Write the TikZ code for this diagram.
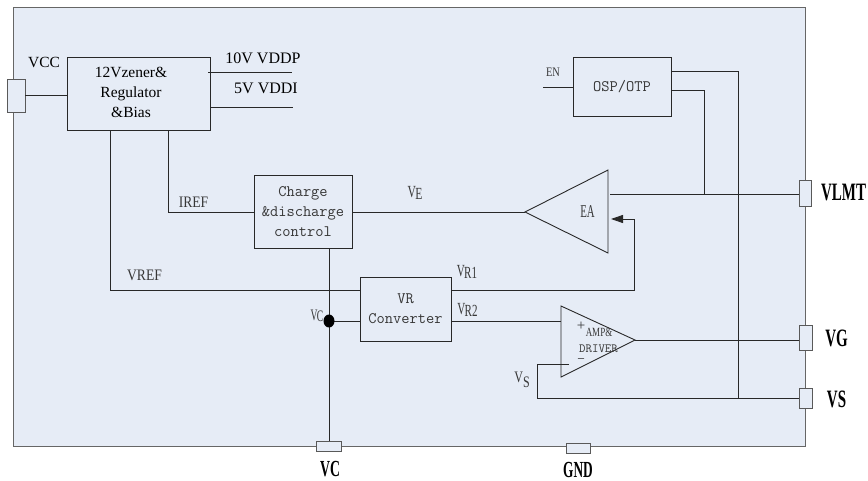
\documentclass[tikz,border=0pt]{standalone}
\usepackage{fontspec}
\usepackage{graphicx}
\setmainfont{Liberation Serif}
\setmonofont{Latin Modern Mono}
\usetikzlibrary{calc,arrows.meta}
\definecolor{bgblue}{RGB}{230,236,246}
\definecolor{ln}{RGB}{40,40,40}
\definecolor{tx}{RGB}{55,55,55}
\newcommand{\cnd}[2][0.7]{\scalebox{#1}[1]{#2}}
\begin{document}
\begin{tikzpicture}[x=1pt,y=-1pt,
  wire/.style={draw=ln,line width=0.9pt},
  blk/.style={draw=ln,line width=0.9pt,fill=bgblue,inner sep=0pt,align=center},
  pinbox/.style={draw=black!65,line width=0.8pt,fill=bgblue,inner sep=0pt},
  pinlab/.style={font=\fontsize{25}{25}\selectfont\bfseries,inner sep=0pt},
  serlab/.style={font=\fontsize{15.5}{20}\selectfont,inner sep=0pt,align=center},
  sl/.style={font=\fontsize{15}{15}\selectfont,text=tx,inner sep=0pt},
  mono/.style={font=\fontsize{16}{20}\selectfont\ttfamily,text=tx},
]
\useasboundingbox (0,0) rectangle (868,481);
\fill[white] (0,0) rectangle (868,481);
% chip frame
\draw[draw=black!60,line width=1pt,fill=bgblue] (13,8) rectangle (805,446);

% blocks
\node[blk,minimum width=143pt,minimum height=73pt] (reg) at (138.5,93.5) {};
\node[serlab] (regtxt) at (131,92) {12Vzener\&\\Regulator\\\&Bias};
\node[blk,minimum width=98pt,minimum height=73pt,mono] (chg) at (303,212) {Charge\\\&discharge\\control};
\node[blk,minimum width=91pt,minimum height=64pt,mono] (vr) at (405.5,309) {VR\\Converter};
\node[blk,minimum width=98pt,minimum height=59pt,mono] (osp) at (622,86.5) {OSP/OTP};

% EA triangle
\coordinate (eatip) at (525,212);
\coordinate (eatop) at (608,170);
\coordinate (eabot) at (608,253);
\draw[wire,fill=bgblue] (eatip) -- (eatop) -- (eabot) -- cycle;
\node[sl,font=\fontsize{18}{18}\selectfont] (ea) at (587.5,211.5) {\cnd[0.6]{EA}};

% AMP triangle
\coordinate (atop) at (561,306);
\coordinate (abot) at (561,377);
\coordinate (atip) at (635,340);
\draw[wire,fill=bgblue] (atop) -- (atip) -- (abot) -- cycle;
\node[sl] (aplus) at (581,326) {+};
\node[sl,font=\fontsize{12.5}{12.5}\selectfont] (aamp) at (599,332) {\cnd[0.72]{AMP\&}};
\node[sl,font=\fontsize{12.5}{12.5}\selectfont\ttfamily] (adrv) at (598.5,349) {DRIVER};
\node[sl] (aminussign) at (581,360.5) {\cnd[0.8]{\textendash}};

% pins
\node[pinbox,minimum width=18pt,minimum height=33pt] (pvcc) at (16,95.5) {};
\node[pinbox,minimum width=12pt,minimum height=26pt] (pvlmt) at (805,193) {};
\node[pinbox,minimum width=13pt,minimum height=25pt] (pvg) at (805.5,338) {};
\node[pinbox,minimum width=13pt,minimum height=20pt] (pvs) at (805.5,398) {};
\node[pinbox,minimum width=25pt,minimum height=10pt] (pvc) at (329,446) {};
\node[pinbox,minimum width=24pt,minimum height=10pt] (pgnd) at (578,448) {};

% pin labels
\node[serlab] (lvcc) at (44,62) {VCC};
\node[pinlab] (lvlmt) at (843.5,192.5) {\cnd[0.6]{VLMT}};
\node[pinlab] (lvg) at (836.5,338.5) {\cnd[0.6]{VG}};
\node[pinlab] (lvs) at (836.5,399.5) {\cnd[0.6]{VS}};
\node[pinlab,font=\fontsize{23}{23}\selectfont\bfseries] (lvc) at (330,469) {\cnd[0.6]{VC}};
\node[pinlab,font=\fontsize{23}{23}\selectfont\bfseries] (lgnd) at (578,470) {\cnd[0.58]{GND}};

% regulator outputs
\draw[wire] (pvcc.east) -- (pvcc.east -| reg.west);
\draw[wire] ($(reg.north east)+(-2,16)$) -- ++(84,0);
\draw[wire] ($(reg.east)+(0,13.5)$) -- ++(83,0);
\node[serlab,font=\fontsize{16}{16}\selectfont] (lvddp) at (263,58) {10V VDDP};
\node[serlab,font=\fontsize{16}{16}\selectfont] (lvddi) at (266,88) {5V VDDI};

% IREF and VREF
\coordinate (vrin1) at ($(vr.north west)+(0,14)$);
\draw[wire] ($(reg.south west)+(102,0)$) |- (chg.west);
\draw[wire] ($(reg.south west)+(44,0)$) |- (vrin1);
\node[sl,font=\fontsize{16}{16}\selectfont] (liref) at (193.5,202.5) {\cnd[0.85]{IREF}};
\node[sl,font=\fontsize{16}{16}\selectfont] (lvref) at (144.5,275) {\cnd[0.85]{VREF}};

% VE
\draw[wire] (chg.east) -- (eatip);
\node[sl,font=\fontsize{17}{17}\selectfont] (lve) at (415,193) {\cnd[0.68]{V\kern-1pt\raisebox{-2pt}{E}}};

% EA output to VLMT
\coordinate (eaout) at (610,194);
\draw[wire] (eaout) -- (eaout -| pvlmt.west);

% VR1 to EA input
\coordinate (vrout1) at ($(vr.north east)+(0,14)$);
\coordinate (eain) at (611,219);
\draw[wire,-{Triangle[length=12pt,width=8pt]}] (vrout1) -| ($(eain)+(23,0)$) -- (eain);
\node[sl,font=\fontsize{17}{17}\selectfont] (lvr1) at (467,271.5) {\cnd[0.65]{V\kern-1pt\raisebox{-2pt}{R1}}};

% OSP/OTP
\coordinate (enin) at (543,87);
\draw[wire] (enin) -- (enin -| osp.west);
\node[sl,font=\fontsize{13}{13}\selectfont] (len) at (553,72) {\cnd[0.8]{EN}};
\coordinate (vsj) at (738,398);
\coordinate (vlj) at (704,194);
\draw[wire] ($(osp.north east)+(0,15)$) -| (vsj);
\draw[wire] ($(osp.north east)+(0,34)$) -| (vlj);

% VR2 to AMP
\coordinate (vrout2) at ($(vr.south east)+(0,-20)$);
\draw[wire] (vrout2) -- (vrout2 -| atop);
\node[sl,font=\fontsize{17}{17}\selectfont] (lvr2) at (467.5,310) {\cnd[0.65]{V\kern-1pt\raisebox{-2pt}{R2}}};

% AMP output to VG
\draw[wire] (atip) -- (atip -| pvg.west);

% VS feedback
\coordinate (aminus) at (569,364);
\coordinate (fbk) at (537,398);
\draw[wire] (aminus) -| (fbk) -- (fbk -| pvs.west);
\node[sl,font=\fontsize{16}{16}\selectfont] (lvsi) at (522,380) {\cnd[0.75]{V\raisebox{-5pt}{S}}};

% VC node
\coordinate (vcdot) at (329,321);
\draw[wire] ($(chg.south)+(26,0)$) -- (pvc.north);
\draw[wire] (vcdot) -- (vcdot -| vr.west);
\fill[black] (vcdot) ellipse (5.5pt and 6.5pt);
\node[sl,font=\fontsize{16}{16}\selectfont] (lvci) at (317,316) {\cnd[0.6]{V\kern-1pt\raisebox{-1.5pt}{C}}};
\end{tikzpicture}
\end{document}
